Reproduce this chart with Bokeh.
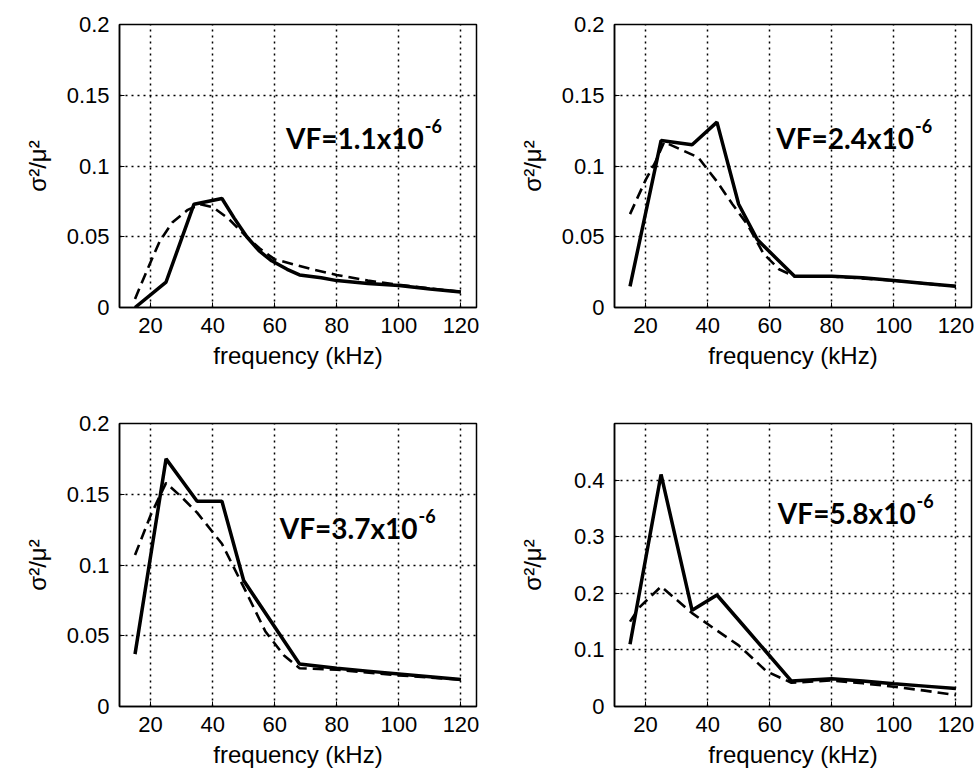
from bokeh.plotting import figure
from bokeh.models import Range1d, FixedTicker, CustomJSTickFormatter, Label
from bokeh.layouts import column, row
from bokeh.embed import file_html
from bokeh.resources import INLINE

# ---------------- data ----------------
x_ticks = [20, 40, 60, 80, 100, 120]
y_ticks_small = [0, 0.05, 0.1, 0.15, 0.2]
y_ticks_large = [0, 0.1, 0.2, 0.3, 0.4]
x_label = "frequency (kHz)"
y_label = "σ²/μ²"
vf_texts = ["VF=1.1x10", "VF=2.4x10", "VF=3.7x10", "VF=5.8x10"]
vf_exp = "-6"

# panel 1 (VF=1.1e-6)
f1_solid = [15, 25, 34, 43, 47, 51, 55, 59, 64, 68, 75, 80, 90, 100, 110, 120]
v1_solid = [0.0, 0.018, 0.073, 0.077, 0.063, 0.050, 0.040, 0.033, 0.027, 0.023, 0.021, 0.019, 0.017, 0.0155, 0.013, 0.011]
f1_dash = [15, 19, 23, 27, 32, 36, 40, 45, 50, 55, 60, 67, 72, 80, 90, 100, 110, 120]
v1_dash = [0.006, 0.027, 0.047, 0.060, 0.069, 0.073, 0.071, 0.063, 0.052, 0.042, 0.034, 0.030, 0.027, 0.023, 0.019, 0.016, 0.0135, 0.011]

# panel 2 (VF=2.4e-6)
f2_solid = [15, 25, 35, 43, 50, 56, 62, 68, 80, 90, 100, 110, 120]
v2_solid = [0.015, 0.118, 0.115, 0.131, 0.073, 0.048, 0.035, 0.022, 0.022, 0.021, 0.019, 0.017, 0.015]
f2_dash = [15, 20, 23, 26, 30, 37, 43, 48, 53, 58, 63, 68, 80, 100, 120]
v2_dash = [0.066, 0.090, 0.102, 0.117, 0.113, 0.106, 0.089, 0.073, 0.058, 0.038, 0.027, 0.022, 0.022, 0.019, 0.015]

# panel 3 (VF=3.7e-6)
f3_solid = [15, 25, 35, 43, 50, 68, 80, 90, 100, 110, 120]
v3_solid = [0.037, 0.175, 0.145, 0.145, 0.089, 0.030, 0.027, 0.025, 0.023, 0.021, 0.019]
f3_dash = [15, 20, 25, 30, 35, 43, 51, 57, 63, 68, 80, 100, 120]
v3_dash = [0.107, 0.135, 0.158, 0.148, 0.137, 0.115, 0.080, 0.053, 0.036, 0.027, 0.026, 0.022, 0.019]

# panel 4 (VF=5.8e-6)
f4_solid = [15, 25, 35, 43, 52, 67, 80, 90, 100, 110, 120]
v4_solid = [0.11, 0.41, 0.17, 0.197, 0.14, 0.045, 0.049, 0.045, 0.040, 0.036, 0.032]
f4_dash = [15, 18, 25, 35, 42, 50, 59, 67, 80, 90, 100, 110, 120]
v4_dash = [0.15, 0.175, 0.212, 0.165, 0.138, 0.108, 0.062, 0.042, 0.046, 0.041, 0.035, 0.028, 0.020]

# annotation anchors (data coords: junction between mantissa and exponent, baseline)
ann_x = [108, 106.5, 106, 107]
ann_y = [0.12, 0.12, 0.126, 0.341]

TICK_FONT = "Liberation Sans"


def make_panel(fs, vs, fd, vd, ymax, yticks, txt, ax, ay,
               bl, br, bt, bb, lab_standoff):
    p = figure(frame_width=357, frame_height=283, output_backend="svg",
               toolbar_location=None,
               x_range=Range1d(10, 125), y_range=Range1d(0, ymax),
               min_border_left=bl, min_border_right=br,
               min_border_top=bt, min_border_bottom=bb)
    p.background_fill_color = "white"
    p.border_fill_color = "white"
    p.outline_line_color = "black"
    p.outline_line_width = 1.5
    p.outline_line_alpha = 1.0

    p.xaxis.ticker = FixedTicker(ticks=x_ticks)
    p.yaxis.ticker = FixedTicker(ticks=yticks)
    p.yaxis.formatter = CustomJSTickFormatter(
        code="return String(Math.round(tick*1000)/1000);")
    for ax_ in (p.xaxis[0], p.yaxis[0]):
        ax_.axis_line_color = "black"
        ax_.axis_line_width = 1.5
        ax_.major_tick_in = 5
        ax_.major_tick_out = 0
        ax_.major_tick_line_color = "black"
        ax_.minor_tick_line_color = None
        ax_.major_label_text_font = TICK_FONT
        ax_.major_label_text_font_size = "22px"
        ax_.major_label_text_color = "black"
        ax_.axis_label_text_font = TICK_FONT
        ax_.axis_label_text_font_size = "24px"
        ax_.axis_label_text_font_style = "normal"
        ax_.axis_label_text_color = "black"
    p.xaxis.major_label_standoff = 10
    p.xaxis.axis_label_standoff = 6
    p.yaxis.major_label_standoff = 10
    p.yaxis.axis_label_standoff = lab_standoff
    p.xaxis.axis_label = x_label
    p.yaxis.axis_label = y_label

    p.xgrid.ticker = FixedTicker(ticks=x_ticks)
    p.ygrid.ticker = FixedTicker(ticks=yticks)
    for g in (p.xgrid[0], p.ygrid[0]):
        g.grid_line_color = "black"
        g.grid_line_dash = "2 4"
        g.grid_line_width = 1.5
        g.grid_line_alpha = 1.0

    p.line(fd, vd, line_color="black", line_width=2.6, line_dash="11 6")
    p.line(fs, vs, line_color="black", line_width=3.5)

    p.add_layout(Label(x=ax, y=ay, text=txt, text_align="right",
                       text_baseline="alphabetic", text_font="Lato",
                       text_font_style="bold", text_font_size="28px",
                       text_color="black"))
    p.add_layout(Label(x=ax, y=ay, text=vf_exp, text_align="left",
                       text_baseline="alphabetic", text_font="Lato",
                       text_font_style="bold", text_font_size="18px",
                       text_color="black", x_offset=1, y_offset=12))
    return p


p1 = make_panel(f1_solid, v1_solid, f1_dash, v1_dash, 0.2, y_ticks_small,
                vf_texts[0], ann_x[0], ann_y[0], 119, 14, 24, 76, 13)
p2 = make_panel(f2_solid, v2_solid, f2_dash, v2_dash, 0.2, y_ticks_small,
                vf_texts[1], ann_x[1], ann_y[1], 124, 6, 24, 76, 13)
p3 = make_panel(f3_solid, v3_solid, f3_dash, v3_dash, 0.2, y_ticks_small,
                vf_texts[2], ann_x[2], ann_y[2], 119, 14, 40, 70, 13)
p4 = make_panel(f4_solid, v4_solid, f4_dash, v4_dash, 0.5, y_ticks_large,
                vf_texts[3], ann_x[3], ann_y[3], 124, 6, 40, 70, 25)

layout = column(row(p1, p2), row(p3, p4))
open("out.html", "w").write(file_html(layout, INLINE))
